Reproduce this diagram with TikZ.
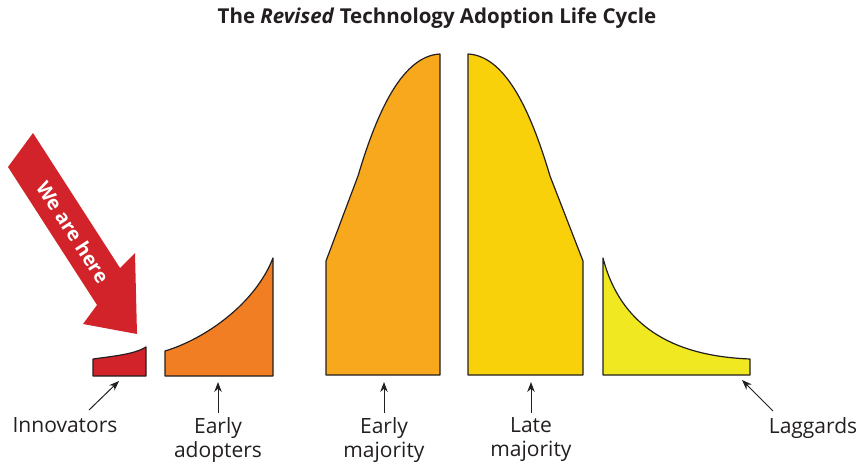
\documentclass[tikz,border=0pt]{standalone}
\usepackage{fontspec}
\setmainfont{Open Sans}
\usetikzlibrary{arrows.meta}

\definecolor{outline}{HTML}{231F20}
\definecolor{innovred}{HTML}{D2232A}
\definecolor{adoptorange}{HTML}{F17E22}
\definecolor{earlyamber}{HTML}{F8A81D}
\definecolor{lategold}{HTML}{F9D10B}
\definecolor{lagyellow}{HTML}{F0E922}

\tikzstyle{segment}=[draw=outline, line width=1.2pt, line join=round]
\tikzstyle{caption}=[font=\fontsize{21}{24}\selectfont, text=outline, align=center, anchor=north, inner sep=2pt]
\tikzstyle{arrow}=[draw=outline, line width=1pt, -{Stealth[length=10pt, width=7.5pt]}]

\begin{document}
\begin{tikzpicture}[x=1pt, y=1pt]
      \useasboundingbox (0, 0) rectangle (862, 464);

      % title
      \node[font=\fontsize{20.5}{24}\selectfont\bfseries, text=outline] (title) at (437, 446)
        {The \textit{Revised} Technology Adoption Life Cycle};

      % the five segments of the curve
      \fill[segment, fill=innovred] (93, 88) -- (93, 105)
        .. controls (115, 108) and (135, 110) .. (146, 117) -- (146, 88) -- cycle;
      \fill[segment, fill=adoptorange] (165, 88) -- (165, 113)
        .. controls (205, 125) and (255, 160) .. (273, 206) -- (273, 88) -- cycle;
      \fill[segment, fill=earlyamber] (326, 89) -- (326, 203) -- (358, 288)
        .. controls (375, 345) and (400, 408) .. (440, 410) -- (440, 89) -- cycle;
      \fill[segment, fill=lategold] (468, 89) -- (468, 410)
        .. controls (508, 408) and (533, 345) .. (550, 288) -- (583, 203) -- (583, 89) -- cycle;
      \fill[segment, fill=lagyellow] (603, 89) -- (603, 206)
        .. controls (620, 140) and (670, 108) .. (750, 105) -- (750, 89) -- cycle;

      % red pointer
      \fill[innovred] (8, 297) -- (33, 331) -- (120, 196) -- (135, 211)
        -- (137, 130) -- (83, 140) -- (97, 159) -- cycle;
      \node[font=\fontsize{19.5}{22}\selectfont\bfseries, text=white, rotate=-57.2, inner sep=0pt] (here) at (73, 232) {We are here};

      % captions
      \node[caption] (innov) at (65, 49) {Innovators};
      \node[caption] (adopt) at (218, 49) {Early\\adopters};
      \node[caption] (early) at (384, 49) {Early\\majority};
      \node[caption] (late) at (531, 49) {Late\\majority};
      \node[caption] (lag) at (813, 49) {Laggards};

      \coordinate (innovpt) at (119, 83);
      \coordinate (adoptpt) at (218, 82);
      \coordinate (earlypt) at (384, 82);
      \coordinate (latept) at (531, 82);
      \coordinate (lagpt) at (742, 84);

      \draw[arrow] ([shift={(24, 5)}]innov.north) to (innovpt);
      \draw[arrow, shorten <=2pt] (adopt.north) to (adoptpt);
      \draw[arrow, shorten <=2pt] (early.north) to (earlypt);
      \draw[arrow, shorten <=2pt] (late.north) to (latept);
      \draw[arrow] ([shift={(-40, 4)}]lag.north) to (lagpt);
    \end{tikzpicture}
\end{document}
